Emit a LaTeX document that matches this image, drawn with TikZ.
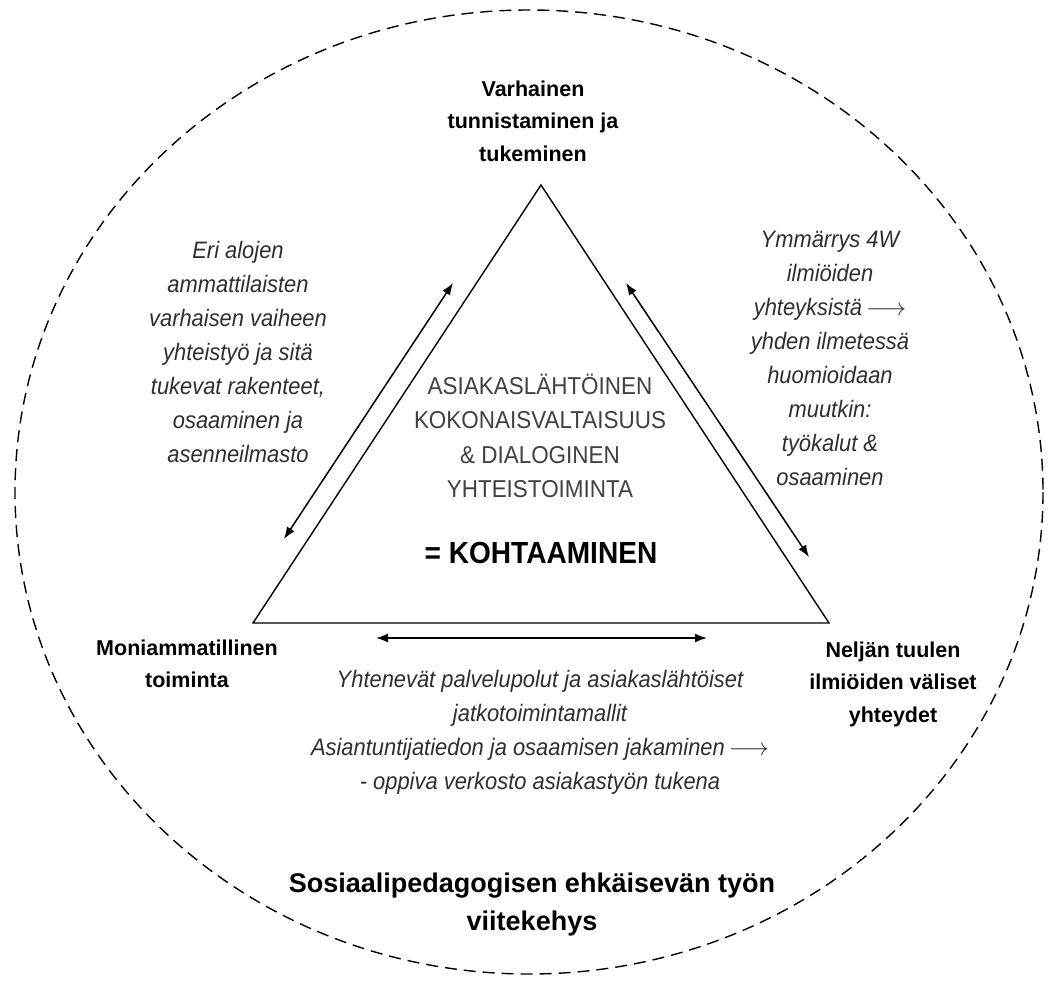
\documentclass[tikz,border=0pt]{standalone}
\usepackage{fontspec}
\setmainfont{Liberation Sans}
\newfontfamily\narrowsans[FakeStretch=0.92]{Liberation Sans}
\usetikzlibrary{arrows.meta}

\newcommand{\lto}{\,$\longrightarrow$}

\begin{document}
\begin{tikzpicture}[x=1pt,y=-1pt,
    corner/.style={font=\fontsize{21.5}{32.5}\selectfont\bfseries,align=center},
    note/.style={font=\narrowsans\itshape\fontsize{23.8}{34}\selectfont,align=center,text=black!82},
    core/.style={font=\narrowsans\fontsize{24.4}{34.3}\selectfont,align=center,text=black!75},
    link/.style={{Latex[length=12pt,width=9pt]}-{Latex[length=12pt,width=9pt]},line width=1.5pt}]
    \useasboundingbox (0,0) rectangle (1049,984);

    \draw[line width=1.4pt,dash pattern=on 12pt off 7pt] (529,492) ellipse [x radius=514, y radius=482];

    \coordinate (apex) at (541,185);
    \coordinate (baseL) at (253,623);
    \coordinate (baseR) at (829,623);
    \draw[line width=1.4pt] (apex) -- (baseL) -- (baseR) -- cycle;

    \node[corner] (early) at (533,121) {Varhainen\\tunnistaminen ja\\tukeminen};
    \node[corner] (multi) at (187,664) {Moniammatillinen\\toiminta};
    \node[corner] (winds) at (893,684) {Neljän tuulen\\ilmiöiden väliset\\yhteydet};

    \node[core] (client) at (540,436) {ASIAKASLÄHTÖINEN\\KOKONAISVALTAISUUS\\\& DIALOGINEN\\YHTEISTOIMINTA};
    \node[font=\narrowsans\bfseries\fontsize{30.5}{34}\selectfont] (meet) at (541,553) {= KOHTAAMINEN};

    \node[note] (leftnote) at (238,352) {Eri alojen\\ammattilaisten\\varhaisen vaiheen\\yhteistyö ja sitä\\tukevat rakenteet,\\osaaminen ja\\asenneilmasto};
    \node[note] (rightnote) at (830,358) {Ymmärrys 4W\\ilmiöiden\\yhteyksistä\lto\\yhden ilmetessä\\huomioidaan\\muutkin:\\työkalut \&\\osaaminen};
    \node[note] (bottomnote) at (540,732) {Yhtenevät palvelupolut ja asiakaslähtöiset\\jatkotoimintamallit\\Asiantuntijatiedon ja osaamisen jakaminen\lto\\- oppiva verkosto asiakastyön tukena};

    \node[font=\fontsize{27}{38}\selectfont\bfseries,align=center] (frame) at (532,905) {Sosiaalipedagogisen ehkäisevän työn\\viitekehys};

    \coordinate (l1) at (284,539);
    \coordinate (l2) at (453,283);
    \coordinate (r1) at (626,283);
    \coordinate (r2) at (809,557);
    \coordinate (b1) at (376,638);
    \coordinate (b2) at (707,638);
    \draw[link] (l1) -- (l2);
    \draw[link] (r1) -- (r2);
    \draw[link] (b1) -- (b2);
\end{tikzpicture}
\end{document}
